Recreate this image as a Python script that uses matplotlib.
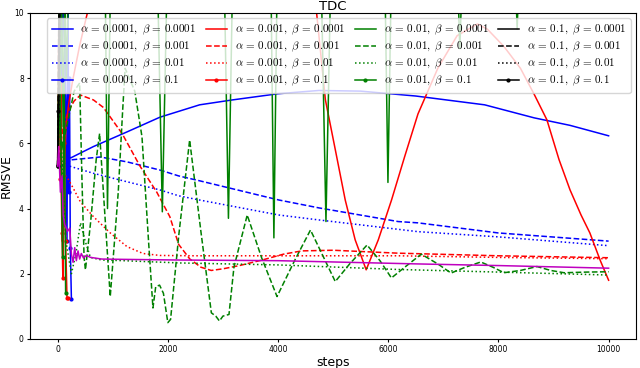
"""
TDC 학습 곡선 (RMSVE vs steps) 다시 그리기
"""
import matplotlib
matplotlib.use('Agg')
import matplotlib.pyplot as plt

plt.rcParams['mathtext.fontset'] = 'cm'

# 파라미터 목록
alphas = ['0.0001', '0.001', '0.01', '0.1']
betas = ['0.0001', '0.001', '0.01', '0.1']
colors = ['b', 'r', 'g', 'k']
styles = ['-', '--', ':', '.-']

# alpha = 0.0001 (blue)
b1_x = [0, 60, 110, 150, 200, 235, 650, 1260, 1856, 2577, 3170, 4000, 4740, 5500, 6500, 7750, 8650, 9300, 10000]
b1_y = [5.3, 9.0, 10.5, 7.5, 5.6, 5.55, 5.9, 6.35, 6.8, 7.18, 7.33, 7.52, 7.62, 7.6, 7.45, 7.18, 6.78, 6.55, 6.23]
b2_x = [0, 200, 230, 775, 1260, 1856, 2196, 2577, 4018, 4739, 6180, 6540, 8000, 10000]
b2_y = [5.3, 5.4, 5.49, 5.58, 5.43, 5.18, 5.0, 4.85, 4.26, 4.02, 3.6, 3.56, 3.25, 3.0]
b3_x = [0, 200, 235, 650, 1260, 1856, 2196, 2577, 4018, 4739, 6540, 8000, 10000]
b3_y = [5.3, 5.3, 5.29, 5.08, 4.82, 4.57, 4.39, 4.26, 3.8, 3.65, 3.29, 3.13, 2.86]
b4_x = [0, 120, 170, 190, 200, 215, 230, 250]
b4_y = [5.3, 10.5, 3.0, 10.5, 4.5, 8.0, 2.8, 1.23]

# alpha = 0.001 (red)
r1_x = [0, 40, 80, 150, 200, 270, 400, 540, 700, 2000, 4500, 4700, 4860, 5040, 5220, 5400, 5600,
        5820, 6060, 6300, 6540, 6900, 7250, 7620, 7800, 8100, 8400, 8650, 8880, 9100, 9300, 9500,
        9660, 9850, 10000]
r1_y = [5.3, 7.5, 3.0, 6.5, 7.2, 7.9, 9.0, 10.0, 12, 14, 12, 10, 7.33, 5.8, 4.26, 3.04, 2.12,
        3.04, 4.26, 5.6, 6.9, 8.3, 9.3, 9.66, 9.5, 8.97, 8.3, 7.5, 6.72, 5.5, 4.57, 3.8,
        3.25, 2.4, 1.8]
r2_x = [0, 100, 200, 300, 415, 650, 830, 1170, 1495, 1800, 2036, 2196, 2400, 2600, 2788, 3000,
        3300, 3712, 4100, 4430, 5000, 6180, 8000, 10000]
r2_y = [5.3, 6.5, 7.0, 7.3, 7.48, 7.33, 7.1, 6.3, 5.3, 4.5, 3.75, 2.9, 2.45, 2.2, 2.1, 2.15,
        2.25, 2.42, 2.6, 2.7, 2.72, 2.63, 2.55, 2.49]
r3_x = [0, 100, 200, 290, 415, 650, 955, 1260, 1550, 1856, 2500, 4000, 6180, 8000, 10000]
r3_y = [5.3, 5.1, 4.88, 4.6, 4.2, 3.75, 3.25, 2.83, 2.62, 2.56, 2.55, 2.55, 2.55, 2.5, 2.46]
r4_x = [0, 25, 50, 65, 80, 95, 120, 145, 170, 185]
r4_y = [5.3, 10.5, 4.9, 8.0, 3.25, 1.87, 6.0, 3.0, 1.26, 1.26]

# alpha = 0.01 (green)
g1_x = [0, 40, 70, 100, 130, 160, 200, 866, 905, 955, 1820, 1900, 1980, 3030, 3100, 3170,
        3875, 3925, 3980, 4790, 4870, 4950, 5945, 5995, 6050, 7270, 7300, 7330, 8320, 8340,
        8360, 10000]
g1_y = [5.3, 7.0, 11, 6.5, 11, 8.0, 11, 10.5, 4.0, 10.5, 10.5, 3.9, 10.5, 10.5, 3.7, 10.5,
        10.5, 3.1, 10.5, 10.5, 3.6, 10.5, 10.5, 4.8, 10.5, 10.5, 8.9, 10.5, 10.5, 9.5,
        10.5, 10.5]
g2_x = [0, 100, 200, 300, 400, 440, 480, 505, 600, 700, 762, 850, 955, 1100, 1180, 1225, 1400,
        1531, 1650, 1730, 1780, 1850, 1920, 2000, 2050, 2200, 2396, 2600, 2790, 2870, 2937,
        3000, 3110, 3200, 3441, 3700, 3982, 4300, 4589, 4800, 5039, 5300, 5616, 5850, 6058,
        6300, 6600, 6900, 7140, 7400, 7680, 7900, 8100, 8400, 8700, 8950, 9190, 9600, 10000]
g2_y = [5.3, 6.0, 6.8, 7.6, 7.85, 5.0, 2.5, 2.12, 3.6, 5.5, 6.3, 4.0, 1.3, 4.5, 7.0, 8.3, 7.6,
        6.2, 3.0, 0.95, 1.6, 1.65, 1.4, 0.5, 0.6, 3.2, 6.1, 3.3, 0.8, 0.7, 0.55,
        0.7, 0.75, 2.2, 3.8, 2.5, 1.3, 2.4, 3.34, 2.6, 1.76, 2.3, 2.88, 2.4, 1.87,
        2.2, 2.6, 2.3, 2.02, 2.2, 2.36, 2.2, 2.03, 2.1, 2.22, 2.1, 2.03, 2.05, 2.06]
g3_x = [0, 40, 80, 150, 250, 330, 415, 500, 595, 800, 1200, 2216, 4000, 6180, 8000, 10000]
g3_y = [5.3, 7.0, 5.5, 3.0, 2.0, 2.6, 3.56, 3.0, 2.5, 2.42, 2.4, 2.33, 2.27, 2.13, 2.05, 1.96]
g4_x = [0, 30, 60, 90, 120, 145]
g4_y = [5.3, 10.5, 6.0, 2.5, 8.0, 1.42]

# alpha = 0.1 (black)
k1_x = [0, 30, 60]
k1_y = [5.3, 8.5, 12]
k2_x = [0, 20, 45]
k2_y = [5.3, 9.5, 12]
k3_x = [0, 25, 50]
k3_y = [5.3, 7.5, 12]
k4_x = [0, 15, 35]
k4_y = [5.3, 7.0, 12]

# 범례에 없는 곡선 (magenta)
m_x = [0, 20, 50, 80, 100, 130, 180, 220, 250, 280, 310, 340, 370, 400, 430, 470, 520, 600,
       800, 1200, 2200, 4000, 6540, 8000, 10000]
m_y = [5.3, 5.9, 4.5, 5.0, 3.8, 3.5, 3.3, 3.4, 2.6, 2.35, 2.8, 2.4, 2.7, 2.45, 2.62, 2.48, 2.56,
       2.5, 2.45, 2.44, 2.42, 2.4, 2.3, 2.25, 2.17]

runs = [
    [(b1_x, b1_y), (b2_x, b2_y), (b3_x, b3_y), (b4_x, b4_y)],
    [(r1_x, r1_y), (r2_x, r2_y), (r3_x, r3_y), (r4_x, r4_y)],
    [(g1_x, g1_y), (g2_x, g2_y), (g3_x, g3_y), (g4_x, g4_y)],
    [(k1_x, k1_y), (k2_x, k2_y), (k3_x, k3_y), (k4_x, k4_y)],
]

fig = plt.figure(figsize=(6.4, 3.68), dpi=100)
ax = fig.add_subplot(111)
fig.subplots_adjust(left=0.047, right=0.994, top=0.965, bottom=0.079)

for i, a in enumerate(alphas):
    for j, b in enumerate(betas):
        xs, ys = runs[i][j]
        # 라벨: "α = a, β = b"
        ax.plot(xs, ys, styles[j], color=colors[i], linewidth=1.1, markersize=4,
                label=r'$\alpha\,=\,%s,\ \beta\,=\,%s$' % (a, b))

ax.plot(m_x, m_y, color='m', linewidth=1.1)

ax.set_ylim(0, 10)
ax.set_xlim(-500, 10500)
ax.set_xticks([0, 2000, 4000, 6000, 8000, 10000])
ax.set_yticks([0, 2, 4, 6, 8, 10])
ax.tick_params(labelsize=5.5, length=2.5, pad=2)
ax.set_title('TDC', fontsize=9.5, pad=2)
ax.set_xlabel('steps', fontsize=9, labelpad=1)
ax.set_ylabel('RMSVE', fontsize=9, labelpad=1)
ax.legend(loc='upper right', ncol=4, fontsize=8, labelspacing=0.25,
          handlelength=1.9, handletextpad=0.7, columnspacing=0.85, borderpad=0.4)

plt.savefig('out.png', dpi=100)
